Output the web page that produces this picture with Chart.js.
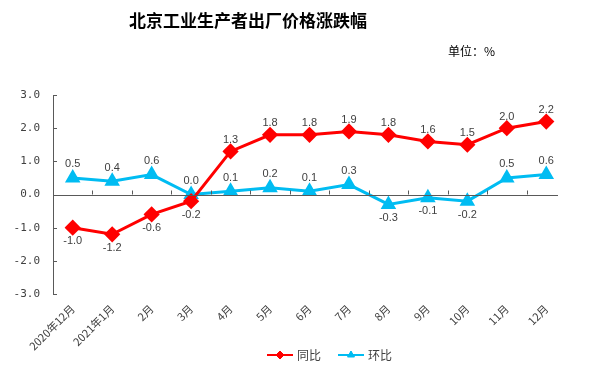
<!DOCTYPE html>
<html><head><meta charset="utf-8">
<script src="https://cdn.jsdelivr.net/npm/chart.js@4"></script>
<style>
html,body{margin:0;padding:0;background:#fff;}
#wrap{position:relative;width:593px;height:370px;}
#title{position:absolute;left:0;width:496px;top:7px;text-align:center;font:bold 17px "Noto Sans CJK SC";color:#000;}
#unit{position:absolute;left:448px;top:42px;font:12px "Noto Sans CJK SC";color:#000;}
canvas{position:absolute;left:0;top:0;}
</style></head><body>
<div id="wrap">
<canvas id="c" width="593" height="370"></canvas>
<div id="title">北京工业生产者出厂价格涨跌幅</div>
<div id="unit">单位：%</div>
</div>
<script>
const categories = ['2020年12月','2021年1月','2月','3月','4月','5月','6月','7月','8月','9月','10月','11月','12月'];
const tongbi = [-1.0,-1.2,-0.6,-0.2,1.3,1.8,1.8,1.9,1.8,1.6,1.5,2.0,2.2];
const huanbi = [0.5,0.4,0.6,0.0,0.1,0.2,0.1,0.3,-0.3,-0.1,-0.2,0.5,0.6];
const seriesNames = ['同比','环比'];
const RED = '#FF0000', BLUE = '#00BCF2', AXIS = '#595959', TXT = '#404040';

const extras = {
  id: 'extras',
  afterDatasetsDraw(chart) {
    const ctx = chart.ctx, a = chart.chartArea;
    const ys = chart.scales.y;
    const y0 = ys.getPixelForValue(0);
    ctx.save();
    ctx.strokeStyle = AXIS; ctx.lineWidth = 1;
    ctx.beginPath(); ctx.moveTo(a.left, Math.round(y0)+0.5); ctx.lineTo(a.right-8, Math.round(y0)+0.5); ctx.stroke();
    const step = (a.right - a.left) / categories.length;
    for (let i = 1; i < categories.length; i++) {
      const x = Math.round(a.left + step*i)+0.5;
      ctx.beginPath(); ctx.moveTo(x, y0); ctx.lineTo(x, y0-4); ctx.stroke();
    }
    ys.ticks.forEach(t => {
      const y = Math.round(ys.getPixelForValue(t.value))+0.5;
      ctx.beginPath(); ctx.moveTo(a.left, y); ctx.lineTo(a.left+4, y); ctx.stroke();
    });
    ctx.font = '11px "Liberation Sans"'; ctx.fillStyle = TXT; ctx.textAlign = 'center';
    const upOff = [6, 8];
    chart.data.datasets.forEach((ds, di) => {
      const meta = chart.getDatasetMeta(di);
      meta.data.forEach((pt, i) => {
        const v = ds.data[i];
        if (v >= 0) { ctx.textBaseline = 'bottom'; ctx.fillText(v.toFixed(1), pt.x, pt.y - upOff[di]); }
        else { ctx.textBaseline = 'top'; ctx.fillText(v.toFixed(1), pt.x, pt.y + 8); }
      });
    });
    const ly = 355;
    const items = [{x:267, c:RED, s:'rectRot', r:4}, {x:338, c:BLUE, s:'triangle', r:4}];
    items.forEach((it, k) => {
      ctx.strokeStyle = it.c; ctx.lineWidth = 2;
      ctx.beginPath(); ctx.moveTo(it.x, ly); ctx.lineTo(it.x+26, ly); ctx.stroke();
      ctx.fillStyle = it.c; ctx.lineWidth = 1;
      ctx.beginPath();
      Chart.helpers.drawPoint(ctx, {pointStyle: it.s, radius: it.r, borderWidth: 1}, it.x+13, ly);
      ctx.fill();
      ctx.fillStyle = TXT; ctx.font = '12px "Noto Sans CJK SC"'; ctx.textAlign = 'left'; ctx.textBaseline = 'middle';
      ctx.fillText(seriesNames[k], it.x+30, ly);
    });
    ctx.restore();
  }
};

new Chart(document.getElementById('c'), {
  type: 'line',
  data: {
    labels: categories,
    datasets: [
      {label: seriesNames[0], data: tongbi, borderColor: RED, backgroundColor: RED, borderWidth: 3,
       pointStyle: 'rectRot', pointRadius: 6, pointHoverRadius: 6, tension: 0},
      {label: seriesNames[1], data: huanbi, borderColor: BLUE, backgroundColor: BLUE, borderWidth: 3,
       pointStyle: 'triangle', pointRadius: 6, pointHoverRadius: 6, tension: 0}
    ]
  },
  options: {
    responsive: false, animation: false, devicePixelRatio: 1,
    layout: {padding: {left: 0, right: 27, top: 95, bottom: 0}},
    plugins: {legend: {display: false}, title: {display: false}, tooltip: {enabled: false}},
    scales: {
      x: {
        offset: true,
        grid: {display: false, drawTicks: false},
        border: {display: false},
        ticks: {minRotation: 45, maxRotation: 45, autoSkip: false, padding: 8, color: TXT,
                font: {family: '"Noto Sans CJK SC"', size: 11}},
        afterFit(s) { s.height = 76; }
      },
      y: {
        min: -3, max: 3,
        grid: {display: false, drawTicks: false},
        border: {display: true, color: AXIS, width: 1},
        ticks: {stepSize: 1, padding: 13, color: TXT, font: {family: '"DejaVu Sans Mono"', size: 11},
                callback: v => Number(v).toFixed(1)},
        afterFit(s) { s.width = 53; }
      }
    }
  },
  plugins: [extras]
});
</script>
</body></html>
